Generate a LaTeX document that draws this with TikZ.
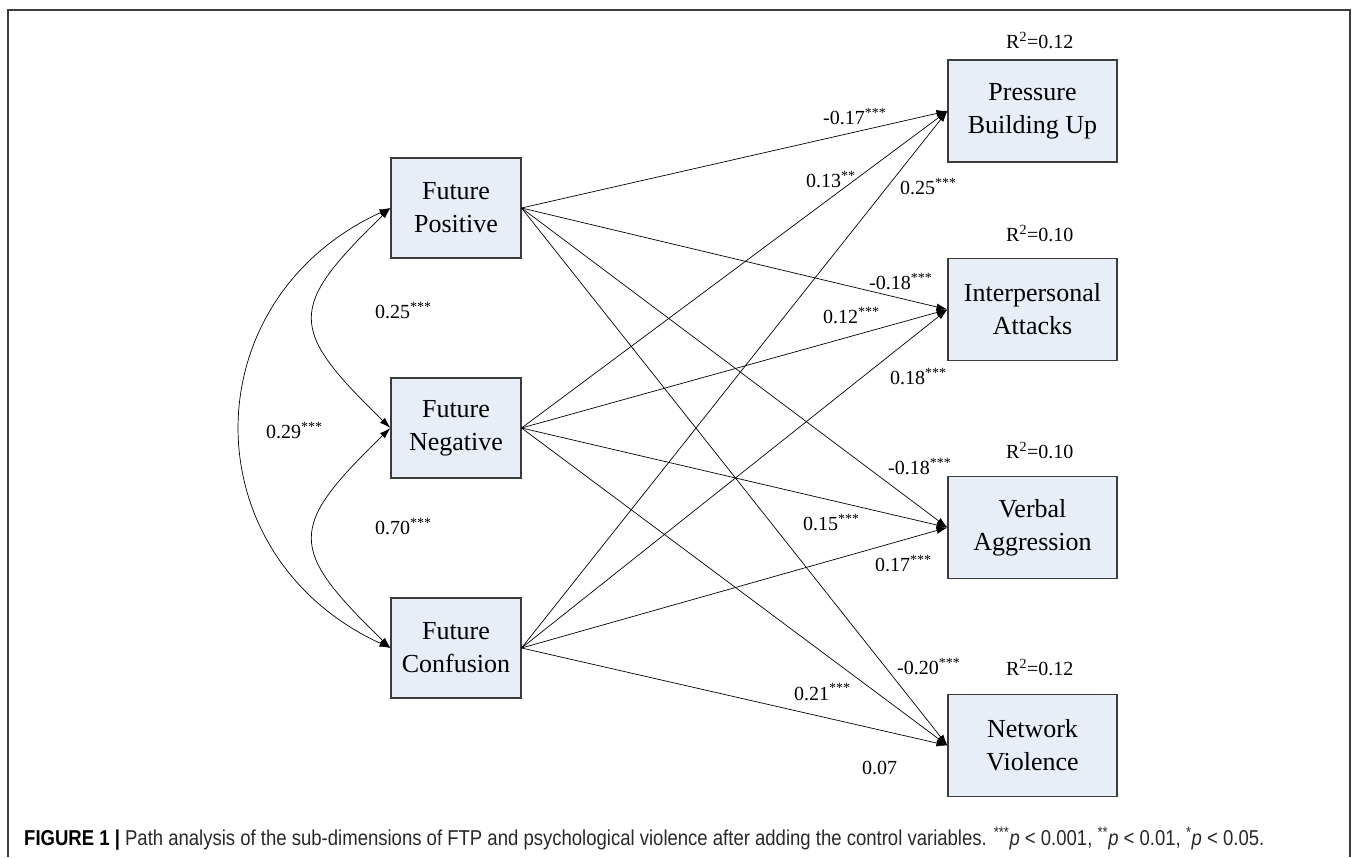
\documentclass[tikz,border=0pt]{standalone}
\usepackage{fontspec}
\setmainfont{Liberation Serif}
\newfontfamily\capfont[FakeStretch=0.86]{Liberation Sans}
\usetikzlibrary{arrows.meta,calc}
\definecolor{boxfill}{RGB}{231,238,248}
\definecolor{boxline}{RGB}{60,60,60}
\definecolor{captxt}{RGB}{40,40,40}
\begin{document}
\begin{tikzpicture}[x=1pt,y=1pt,
  var/.style={draw=boxline,line width=1.1pt,fill=boxfill,inner sep=0pt,align=center,
    font=\fontsize{26}{33}\selectfont},
  leftvar/.style={var,minimum width=130pt,minimum height=100pt},
  rightvar/.style={var,minimum width=169pt,minimum height=102pt},
  path/.style={line width=0.7pt,-{Latex[length=11pt,width=7pt]}},
  cov/.style={line width=0.7pt,{Latex[length=11pt,width=7pt]}-{Latex[length=11pt,width=7pt]}},
  coef/.style={anchor=base west,inner sep=0pt,font=\fontsize{20}{24}\selectfont},
  rsq/.style={anchor=base west,inner sep=0pt,font=\fontsize{20}{24}\selectfont}]
\useasboundingbox (0,0) rectangle (1357,857);
\draw[line width=1.1pt,color=boxline] (8,0) -- (8,847) -- (1350,847) -- (1350,0);

% left variables
\node[leftvar] (FP) at (456,649) {Future\\Positive};
\node[leftvar] (FN) at (456,429) {Future\\Negative};
\node[leftvar] (FC) at (456,209) {Future\\Confusion};

% right variables
\node[rightvar] (PB) at (1032.5,746) {Pressure\\Building Up};
\node[rightvar] (IA) at (1032.5,547.5) {Interpersonal\\Attacks};
\node[rightvar] (VA) at (1032.5,329.5) {Verbal\\Aggression};
\node[rightvar] (NV) at (1032.5,111.5) {Network\\Violence};

% R squared
\node[rsq] (r1) at (1006,808) {R\textsuperscript{2}=0.12};
\node[rsq] (r2) at (1006,615) {R\textsuperscript{2}=0.10};
\node[rsq] (r3) at (1006,398) {R\textsuperscript{2}=0.10};
\node[rsq] (r4) at (1006,181) {R\textsuperscript{2}=0.12};

% paths
\foreach \s in {FP,FN,FC}{
  \foreach \t in {PB,IA,VA,NV}{
    \draw[path] (\s.east) -- (\t.west);
  }
}

% covariances
\draw[cov] (FP.west) .. controls +(-103,-100) and +(-103,100) .. (FN.west);
\draw[cov] (FN.west) .. controls +(-103,-100) and +(-103,100) .. (FC.west);
\draw[cov] (FP.west) .. controls +(-200,-92) and +(-200,92) .. (FC.west);

% covariance labels
\node[coef] (c1) at (375,538) {0.25\textsuperscript{***}};
\node[coef] (c2) at (266,418) {0.29\textsuperscript{***}};
\node[coef] (c3) at (375,322) {0.70\textsuperscript{***}};

% path labels
\node[coef] (p1) at (823,732) {-0.17\textsuperscript{***}};
\node[coef] (p2) at (806,669) {0.13\textsuperscript{**}};
\node[coef] (p3) at (900,662) {0.25\textsuperscript{***}};
\node[coef] (p4) at (869,567) {-0.18\textsuperscript{***}};
\node[coef] (p5) at (823,533) {0.12\textsuperscript{***}};
\node[coef] (p6) at (890,472) {0.18\textsuperscript{***}};
\node[coef] (p7) at (888,382) {-0.18\textsuperscript{***}};
\node[coef] (p8) at (803,326) {0.15\textsuperscript{***}};
\node[coef] (p9) at (875,285) {0.17\textsuperscript{***}};
\node[coef] (p10) at (897,182) {-0.20\textsuperscript{***}};
\node[coef] (p11) at (794,157) {0.21\textsuperscript{***}};
\node[coef] (p12) at (862,83) {0.07};

% caption
\node[anchor=base west,inner sep=0pt,text=captxt] (cap) at (24,12)
  {\resizebox{1240pt}{!}{\capfont\fontsize{18}{20}\selectfont\textcolor{black}{\textbf{FIGURE 1 |}} Path analysis of the sub-dimensions of FTP and psychological violence after adding the control variables. \textsuperscript{***}\textit{p} {\textless} 0.001, \textsuperscript{**}\textit{p} {\textless} 0.01, \textsuperscript{*}\textit{p} {\textless} 0.05.}};
\end{tikzpicture}
\end{document}
